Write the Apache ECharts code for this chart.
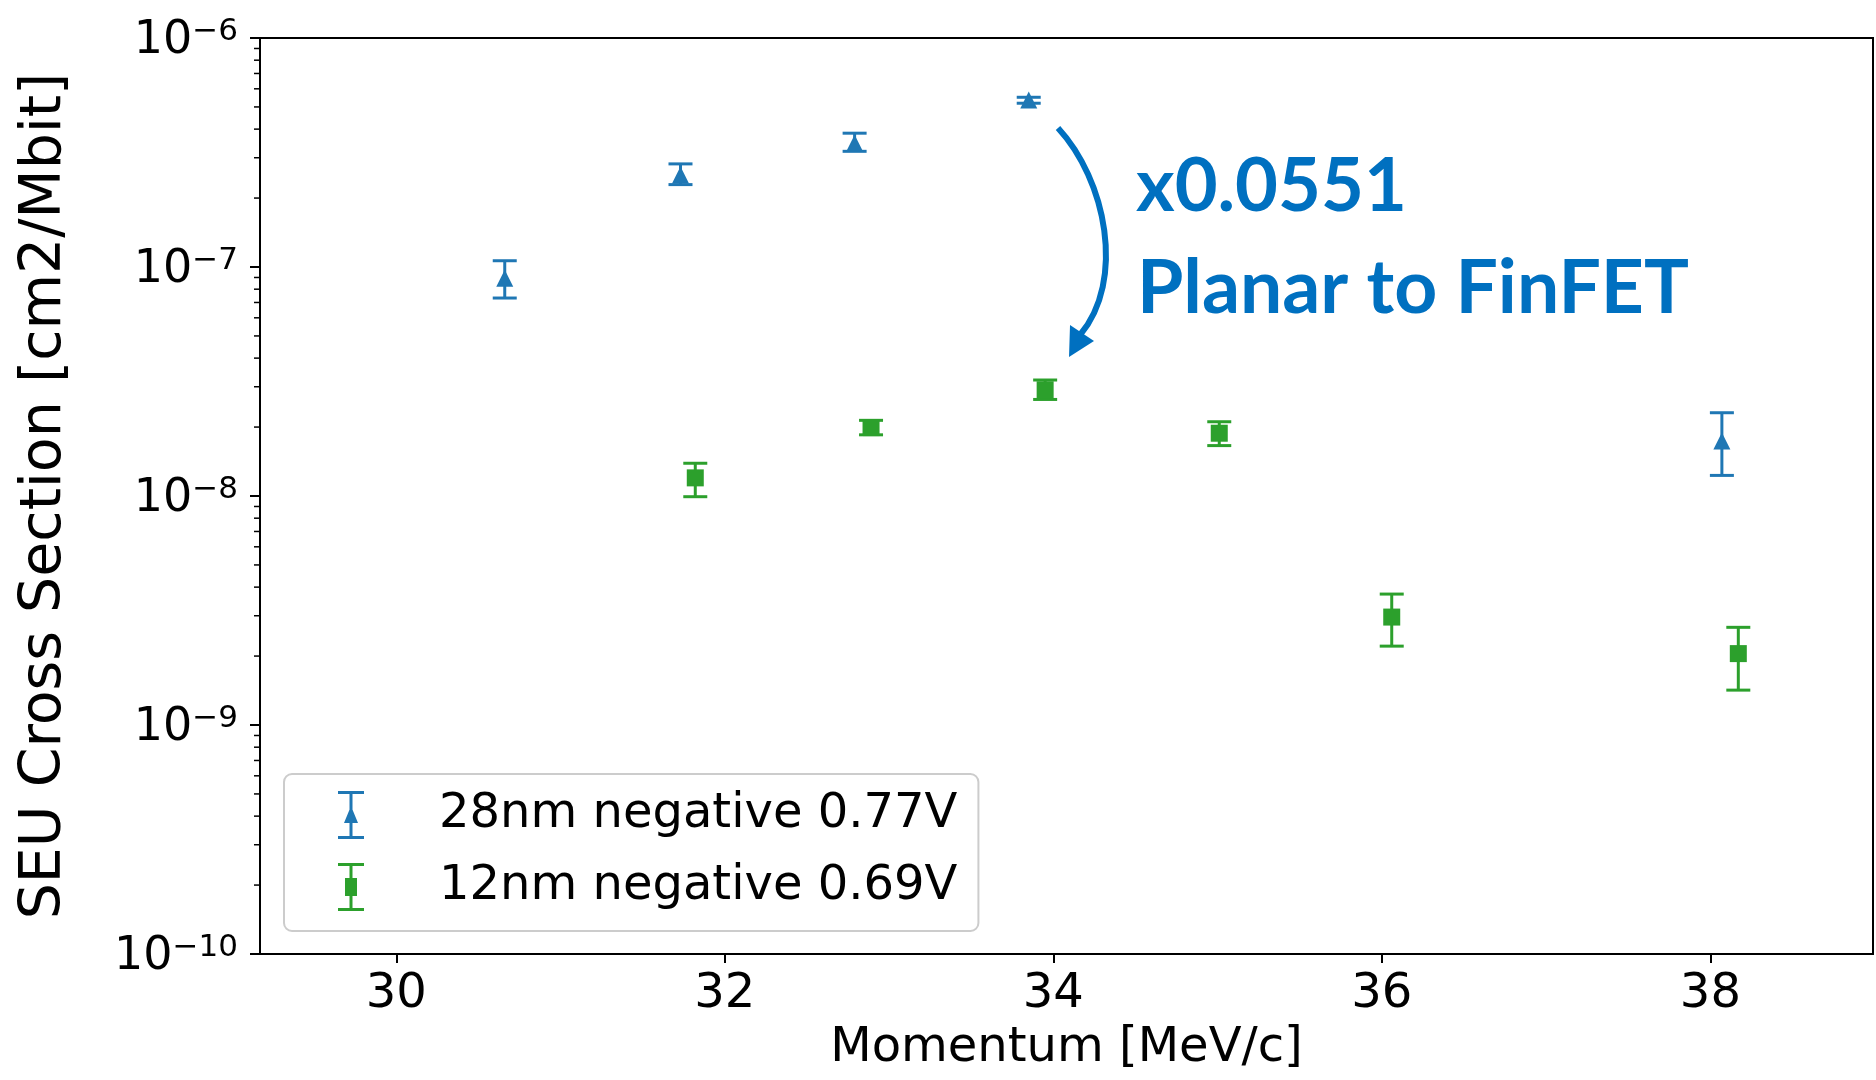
<!DOCTYPE html>
<html>
<head>
<meta charset="utf-8">
<script src="https://cdn.jsdelivr.net/npm/echarts@6/dist/echarts.min.js"></script>
<style>
html,body{margin:0;padding:0;background:#fff;}
#chart{width:1876px;height:1080px;}
</style>
</head>
<body>
<div id="chart"></div>
<script>
// ---- data ----
const seriesNames = ['28nm negative 0.77V', '12nm negative 0.69V'];

const mom28 = [30.66, 31.73, 32.79, 33.85, 38.07];
const xs28  = [8.93e-8, 2.52e-7, 3.47e-7, 5.36e-7, 1.74e-8];
const lo28  = [7.32e-8, 2.29e-7, 3.20e-7, 5.19e-7, 1.23e-8];
const hi28  = [1.065e-7, 2.82e-7, 3.84e-7, 5.51e-7, 2.31e-8];

const mom12 = [31.82, 32.89, 33.95, 35.01, 36.06, 38.17];
const xs12  = [1.20e-8, 1.99e-8, 2.91e-8, 1.88e-8, 2.96e-9, 2.05e-9];
const lo12  = [9.93e-9, 1.85e-8, 2.64e-8, 1.66e-8, 2.21e-9, 1.42e-9];
const hi12  = [1.39e-8, 2.14e-8, 3.21e-8, 2.11e-8, 3.73e-9, 2.67e-9];

const xTicks = [30, 32, 34, 36, 38];
const xMin = 29.17, xMax = 38.99;
const yMin = 1e-10, yMax = 1e-6;
const minorFactors = [2, 3, 4, 5, 6, 7, 8, 9];
const minorDecades = [-10, -9, -8, -7];

const annoText1 = 'x0.0551';
const annoText2 = 'Planar to FinFET';

// ---- colours / styles ----
const C28 = '#1f77b4', C12 = '#2ca02c', CANNO = '#0070C0';
const FONT = 'DejaVu Sans';

const minorVals = [];
minorDecades.forEach(d => minorFactors.forEach(f => minorVals.push([xMin, f * Math.pow(10, d)])));

const toPts = (xs, ys) => xs.map((x, i) => [x, ys[i]]);
const toErr = (xs, lo, hi) => xs.map((x, i) => [x, lo[i], hi[i]]);

function errRender(color) {
  return function (params, api) {
    const x = api.value(0);
    const pHi = api.coord([x, api.value(2)]);
    const pLo = api.coord([x, api.value(1)]);
    const w = 12;
    const st = { stroke: color, lineWidth: 3 };
    return {
      type: 'group',
      children: [
        { type: 'line', shape: { x1: pHi[0], y1: pHi[1], x2: pLo[0], y2: pLo[1] }, style: st },
        { type: 'line', shape: { x1: pHi[0] - w, y1: pHi[1], x2: pHi[0] + w, y2: pHi[1] }, style: st },
        { type: 'line', shape: { x1: pLo[0] - w, y1: pLo[1], x2: pLo[0] + w, y2: pLo[1] }, style: st }
      ]
    };
  };
}

const icon28 = 'path://M0 0H26V3H0Z M11.5 3H14.5V45H11.5Z M0 45H26V48H0Z M13 15L20 32L6 32Z';
const icon12 = 'path://M0 0H26V3H0Z M11.5 3H14.5V45H11.5Z M0 45H26V48H0Z M7 15H19V33H7Z';

const chart = echarts.init(document.getElementById('chart'), null, { renderer: 'canvas' });

const option = {
  animation: false,
  backgroundColor: '#fff',
  grid: {
    left: 260, right: 3, top: 38, bottom: 126,
    show: true, borderColor: '#000', borderWidth: 2, backgroundColor: 'transparent'
  },
  xAxis: {
    type: 'value', min: xMin, max: xMax,
    name: 'Momentum [MeV/c]', nameLocation: 'middle', nameGap: 71,
    nameTextStyle: { fontFamily: FONT, fontSize: 48, color: '#000' },
    axisLine: { show: true, lineStyle: { color: '#000', width: 2 } },
    axisTick: { show: true, inside: false, length: 9, lineStyle: { color: '#000', width: 2 }, customValues: xTicks },
    axisLabel: { fontFamily: FONT, fontSize: 48, color: '#000', margin: 17, customValues: xTicks },
    splitLine: { show: false }
  },
  yAxis: {
    type: 'log', logBase: 10, min: yMin, max: yMax, splitNumber: 4,
    name: 'SEU Cross Section [cm2/Mbit]', nameLocation: 'middle', nameGap: 186,
    nameTextStyle: { fontFamily: FONT, fontSize: 57, color: '#000' },
    axisLine: { show: true, lineStyle: { color: '#000', width: 2 } },
    axisTick: { show: true, inside: false, length: 10, lineStyle: { color: '#000', width: 2 } },
    axisLabel: {
      margin: 22,
      padding: [6, 0, 0, 0],
      formatter: function (v) {
        const e = Math.round(Math.log10(v));
        return '{b|10}{e|\u2212' + Math.abs(e) + '}';
      },
      rich: {
        b: { fontFamily: FONT, fontSize: 46, color: '#000', lineHeight: 50 },
        e: { fontFamily: FONT, fontSize: 31, color: '#000', verticalAlign: 'top', lineHeight: 50, padding: [0, 0, 22, 0] }
      }
    },
    splitLine: { show: false }
  },
  legend: {
    orient: 'vertical', left: 284, top: 774,
    padding: [17, 21, 20, 54],
    itemWidth: 26, itemHeight: 48, itemGap: 24,
    borderColor: '#cccccc', borderWidth: 2, borderRadius: 8, backgroundColor: '#fff',
    textStyle: { fontFamily: FONT, fontSize: 48, color: '#000', padding: [0, 0, 0, 70] },
    data: [
      { name: seriesNames[0], icon: icon28 },
      { name: seriesNames[1], icon: icon12 }
    ],
    selectedMode: false
  },
  series: [
    {
      type: 'custom', name: 'minorTicks', silent: true, clip: false,
      data: minorVals,
      renderItem: function (params, api) {
        const p = api.coord([api.value(0), api.value(1)]);
        return { type: 'line', shape: { x1: p[0] - 6, y1: p[1], x2: p[0], y2: p[1] }, style: { stroke: '#000', lineWidth: 1.5 } };
      },
      z: 5
    },
    {
      type: 'custom', name: 'err28', silent: true,
      data: toErr(mom28, lo28, hi28),
      encode: { x: 0, y: [1, 2] },
      renderItem: errRender(C28), z: 2
    },
    {
      type: 'custom', name: 'err12', silent: true,
      data: toErr(mom12, lo12, hi12),
      encode: { x: 0, y: [1, 2] },
      renderItem: errRender(C12), z: 2
    },
    {
      type: 'scatter', name: seriesNames[0],
      data: toPts(mom28, xs28),
      symbol: 'triangle', symbolSize: [17, 17],
      itemStyle: { color: C28, opacity: 1 }, z: 3
    },
    {
      type: 'scatter', name: seriesNames[1],
      data: toPts(mom12, xs12),
      symbol: 'rect', symbolSize: [17, 17],
      itemStyle: { color: C12, opacity: 1 }, z: 3
    }
  ],
  graphic: [
    {
      type: 'bezierCurve', silent: true, z: 10,
      shape: { x1: 1058, y1: 128, cpx1: 1106, cpy1: 180, cpx2: 1126, cpy2: 280, x2: 1080, y2: 335 },
      style: { stroke: CANNO, lineWidth: 6, fill: null }
    },
    {
      type: 'polygon', silent: true, z: 10,
      shape: { points: [[1069, 357], [1070, 325], [1094, 341]] },
      style: { fill: CANNO }
    },
    {
      type: 'text', silent: true, z: 10, left: 1136, top: 150,
      style: { text: annoText1, fontFamily: 'Lato', fontWeight: 'bold', fontSize: 74, fill: CANNO }
    },
    {
      type: 'text', silent: true, z: 10, left: 1137, top: 251,
      style: { text: annoText2, fontFamily: 'Lato', fontWeight: 'bold', fontSize: 75, fill: CANNO }
    }
  ]
};
chart.setOption(option);
</script>
</body>
</html>
